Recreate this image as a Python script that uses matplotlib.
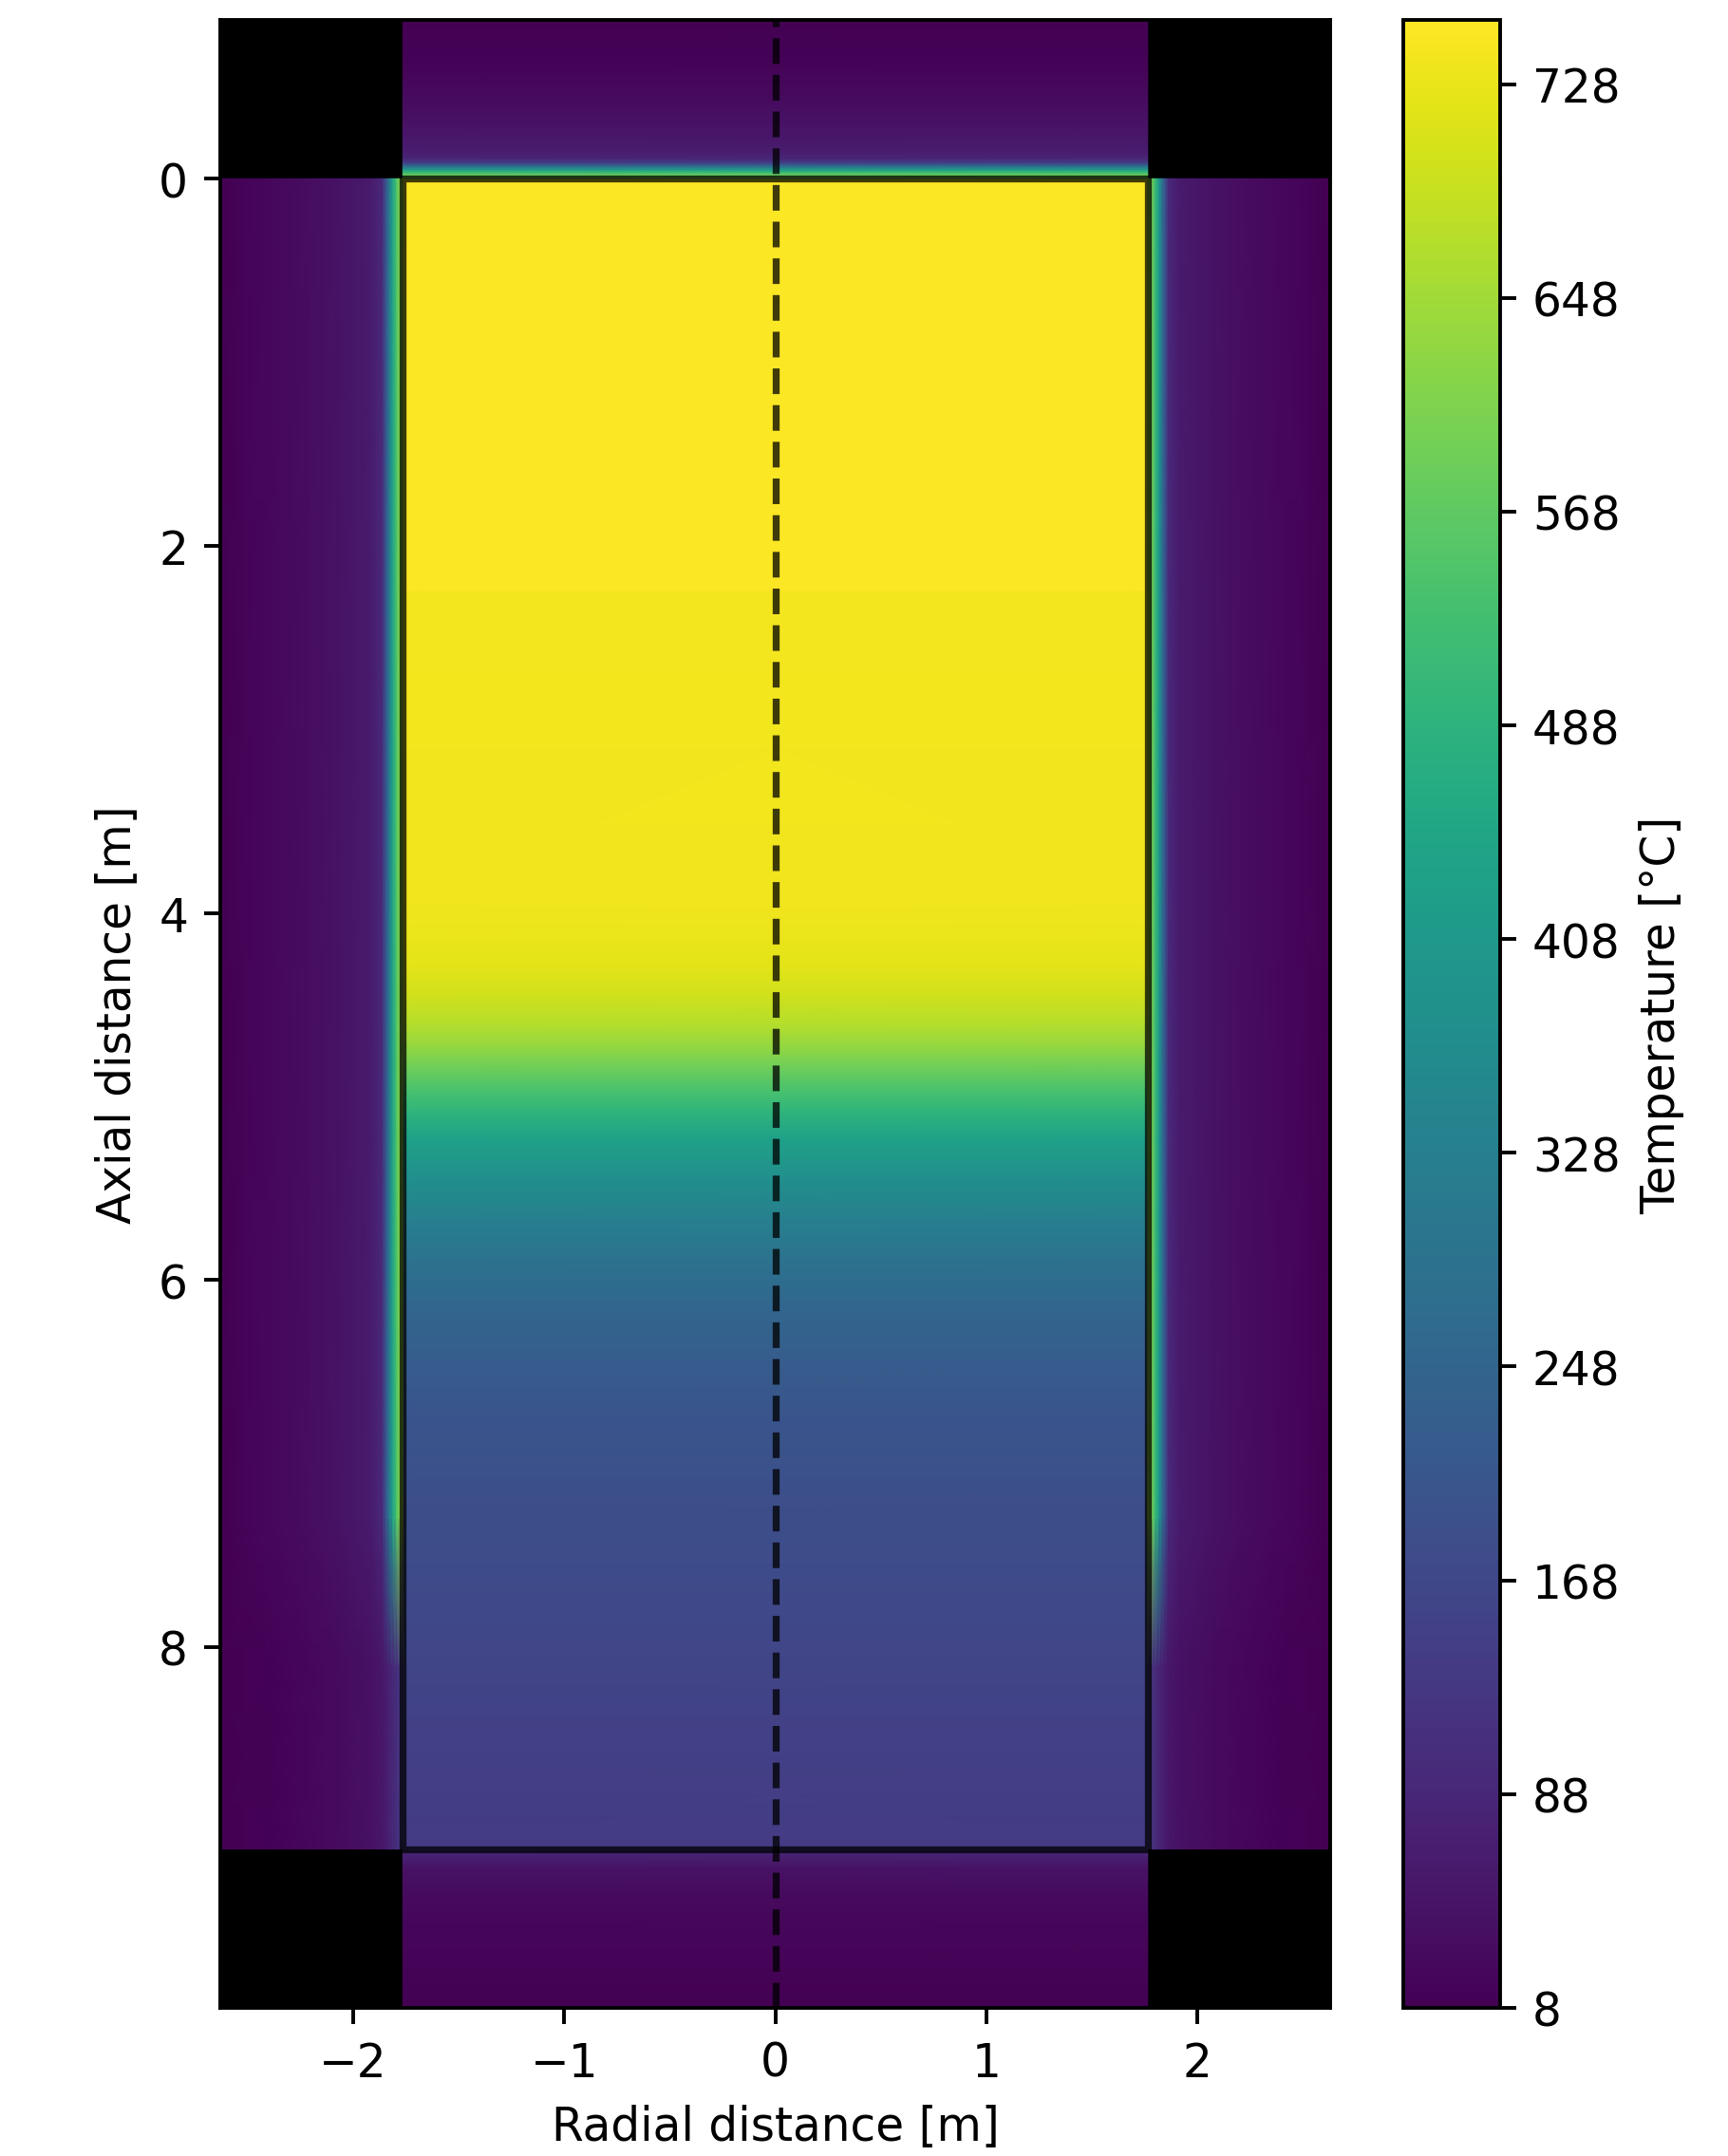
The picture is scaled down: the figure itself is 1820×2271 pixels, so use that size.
import numpy as np
import matplotlib
matplotlib.use("Agg")
import matplotlib.pyplot as plt

# geometry [m]
tank_radius = 1.765
tank_height = 9.1
insulation = 0.865

# fluid temperature along the tank axis [degC]
tank_depth = [0.0, 2.25, 2.25, 3.95, 4.1, 4.3, 4.45, 4.6, 4.73, 4.85, 4.97, 5.09,
              5.23, 5.45, 5.66, 5.88, 6.12, 6.42, 6.71, 7.04, 7.5, 8.0, 8.5, 9.1]
tank_temp = [748, 748, 738, 736, 730, 718, 698, 668, 630, 585, 535, 488,
             432, 377, 330, 290, 255, 225, 205, 192, 178, 164, 150, 136]

# lid insulation (above the tank)
top_y = [-0.865, -0.68, -0.53, -0.37, -0.27, -0.15, -0.11, -0.085, -0.065, -0.045, -0.025, 0.0]
top_temp = [9, 12, 22, 35, 48, 65, 85, 150, 290, 440, 560, 620]

# side insulation, distance from the wall
side_dist = [0.0, 0.02, 0.037, 0.055, 0.07, 0.085, 0.1, 0.15, 0.3, 0.45, 0.65, 0.865]
side_hot = [640, 600, 506, 395, 276, 180, 95, 62, 44, 32, 20, 10]
side_cold = [140, 120, 100, 85, 72, 62, 52, 42, 30, 20, 12, 8]
side_y = [0.0, 7.3, 8.1, 9.1]

# floor insulation (below the tank)
bot_y = [9.1, 9.13, 9.2, 9.35, 9.6, 9.965]
bot_temp = [120, 80, 45, 28, 18, 10]

cbar_ticks = [8, 88, 168, 248, 328, 408, 488, 568, 648, 728]
t_min, t_max = 8, 752

fig = plt.figure(figsize=(5.2, 6.4914), dpi=350)
ax = fig.add_axes([0.1275, 0.0687, 0.6423, 0.9216])
cax = fig.add_axes([0.8121, 0.0687, 0.056, 0.9216])

norm = plt.Normalize(t_min, t_max)
kw = dict(cmap="viridis", norm=norm, shading="gouraud", antialiased=False)

R = tank_radius
ax.set_facecolor("black")
X = [-R, R]
mesh = ax.pcolormesh(X, tank_depth, np.column_stack([tank_temp, tank_temp]), **kw)
ax.pcolormesh(X, top_y, np.column_stack([top_temp, top_temp]), **kw)
ax.pcolormesh(X, bot_y, np.column_stack([bot_temp, bot_temp]), **kw)

dist = np.array(side_dist)
side = np.array([side_hot, side_hot, side_cold, side_cold])
ax.pcolormesh(R + dist, side_y, side, **kw)
ax.pcolormesh(-(R + dist), side_y, side, **kw)

# tank wall and symmetry axis
ax.add_patch(plt.Rectangle((-R, 0), 2 * R, tank_height, fill=False,
                           ec="k", lw=1.5, alpha=0.75))
ax.axvline(0, color="k", ls="--", lw=1.5, alpha=0.75)

ax.set_xlim(-R - insulation, R + insulation)
ax.set_ylim(tank_height + insulation, -insulation)
ax.set_xlabel("Radial distance [m]")
ax.set_ylabel("Axial distance [m]")

cb = fig.colorbar(mesh, cax=cax, ticks=cbar_ticks)
cb.set_label("Temperature [°C]")

fig.savefig("out.png", dpi=350)
